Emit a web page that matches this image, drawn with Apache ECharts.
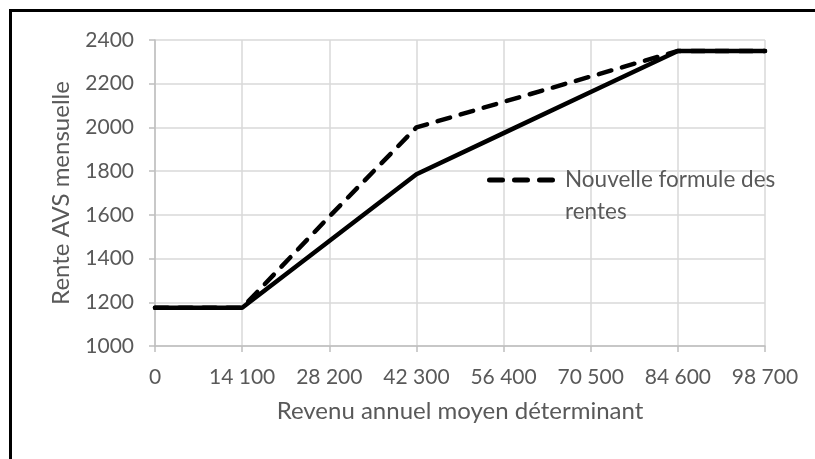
<!DOCTYPE html>
<html>
<head>
<meta charset="utf-8">
<script src="https://cdn.jsdelivr.net/npm/echarts@6/dist/echarts.min.js"></script>
<style>
  html, body { margin: 0; padding: 0; background: #fff; overflow: hidden; }
  #frame { position: absolute; left: 9px; top: 9px; width: 1000px; height: 700px; border: 3px solid #000; box-sizing: border-box; }
  #chart { position: absolute; left: 0; top: 0; width: 815px; height: 459px; }
</style>
</head>
<body>
<div id="frame"></div>
<div id="chart"></div>
<script>
// Data
const incomes = [0, 14100, 28200, 42300, 56400, 70500, 84600, 98700];
const renteActuelle = [1175, 1175, 1480, 1786, 1974, 2162, 2350, 2350];
const renteNouvelle = [1175, 1175, 1592, 2000, 2117, 2233, 2350, 2350];
const xTickLabels = ['0', '14 100', '28 200', '42 300', '56 400', '70 500', '84 600', '98 700'];
const yTickValues = [1000, 1200, 1400, 1600, 1800, 2000, 2200, 2400];
const yTickLabels = ['1000', '1200', '1400', '1600', '1800', '2000', '2200', '2400'];
const seriesNames = ['Formule actuelle', 'Nouvelle formule des rentes'];
const legendLines = ['Nouvelle formule des', 'rentes'];
const xTitle = 'Revenu annuel moyen déterminant';
const yTitle = 'Rente AVS mensuelle';

const FONT = 'Lato';
const TXT = '#595959';

const chart = echarts.init(document.getElementById('chart'), null, { renderer: 'canvas' });
chart.setOption({
  animation: false,
  backgroundColor: 'transparent',
  grid: { left: 155, right: 50, top: 40, bottom: 113, containLabel: false },
  xAxis: {
    type: 'value', min: 0, max: 98700, interval: 14100,
    name: xTitle, nameLocation: 'middle', nameGap: 53,
    nameTextStyle: { fontFamily: FONT, fontSize: 24, color: TXT },
    axisLine: { show: true, lineStyle: { color: '#bfbfbf', width: 1.5 } },
    axisTick: { show: true, length: 6, lineStyle: { color: '#bfbfbf', width: 1.5 } },
    axisLabel: {
      margin: 21, fontFamily: FONT, fontSize: 21, color: TXT,
      formatter: v => { const i = incomes.indexOf(v); return i >= 0 ? xTickLabels[i] : ''; }
    },
    splitLine: { show: true, lineStyle: { color: '#d9d9d9', width: 1.5 } }
  },
  yAxis: {
    type: 'value', min: 1000, max: 2400, interval: 200,
    name: yTitle, nameLocation: 'middle', nameGap: 82, nameRotate: 90,
    nameTextStyle: { fontFamily: FONT, fontSize: 24, color: TXT },
    axisLine: { show: true, lineStyle: { color: '#bfbfbf', width: 1.5 } },
    axisTick: { show: true, length: 6, lineStyle: { color: '#bfbfbf', width: 1.5 } },
    axisLabel: {
      margin: 21, fontFamily: FONT, fontSize: 21, color: TXT,
      formatter: v => { const i = yTickValues.indexOf(v); return i >= 0 ? yTickLabels[i] : ''; }
    },
    splitLine: { show: true, lineStyle: { color: '#d9d9d9', width: 1.5 } }
  },
  legend: {
    data: [seriesNames[1]],
    left: 487, top: 132, padding: 0,
    orient: 'vertical',
    itemWidth: 68, itemHeight: 5, itemGap: 0,
    icon: 'path://M2.5,0h13a2.5,2.5 0 0 1 0,5h-13a2.5,2.5 0 0 1 0,-5z M27.5,0h13a2.5,2.5 0 0 1 0,5h-13a2.5,2.5 0 0 1 0,-5z M52.5,0h13a2.5,2.5 0 0 1 0,5h-13a2.5,2.5 0 0 1 0,-5z',
    formatter: () => ' \n' + legendLines.join('\n'),
    textStyle: { fontFamily: FONT, fontSize: 22.5, color: TXT, lineHeight: 32, padding: [0, 0, 0, 5] },
    selectedMode: false
  },
  series: [
    {
      name: seriesNames[0], type: 'line', showSymbol: false, symbol: 'none',
      data: incomes.map((x, i) => [x, renteActuelle[i]]),
      lineStyle: { color: '#000', width: 4.5, cap: 'round', join: 'round' },
      itemStyle: { color: '#000' }, z: 3
    },
    {
      name: seriesNames[1], type: 'line', showSymbol: false, symbol: 'none',
      data: incomes.map((x, i) => [x, renteNouvelle[i]]),
      lineStyle: { color: '#000', width: 4.5, type: [13, 11], cap: 'round', join: 'round' },
      itemStyle: { color: '#000' }, z: 2
    }
  ]
});
</script>
</body>
</html>
